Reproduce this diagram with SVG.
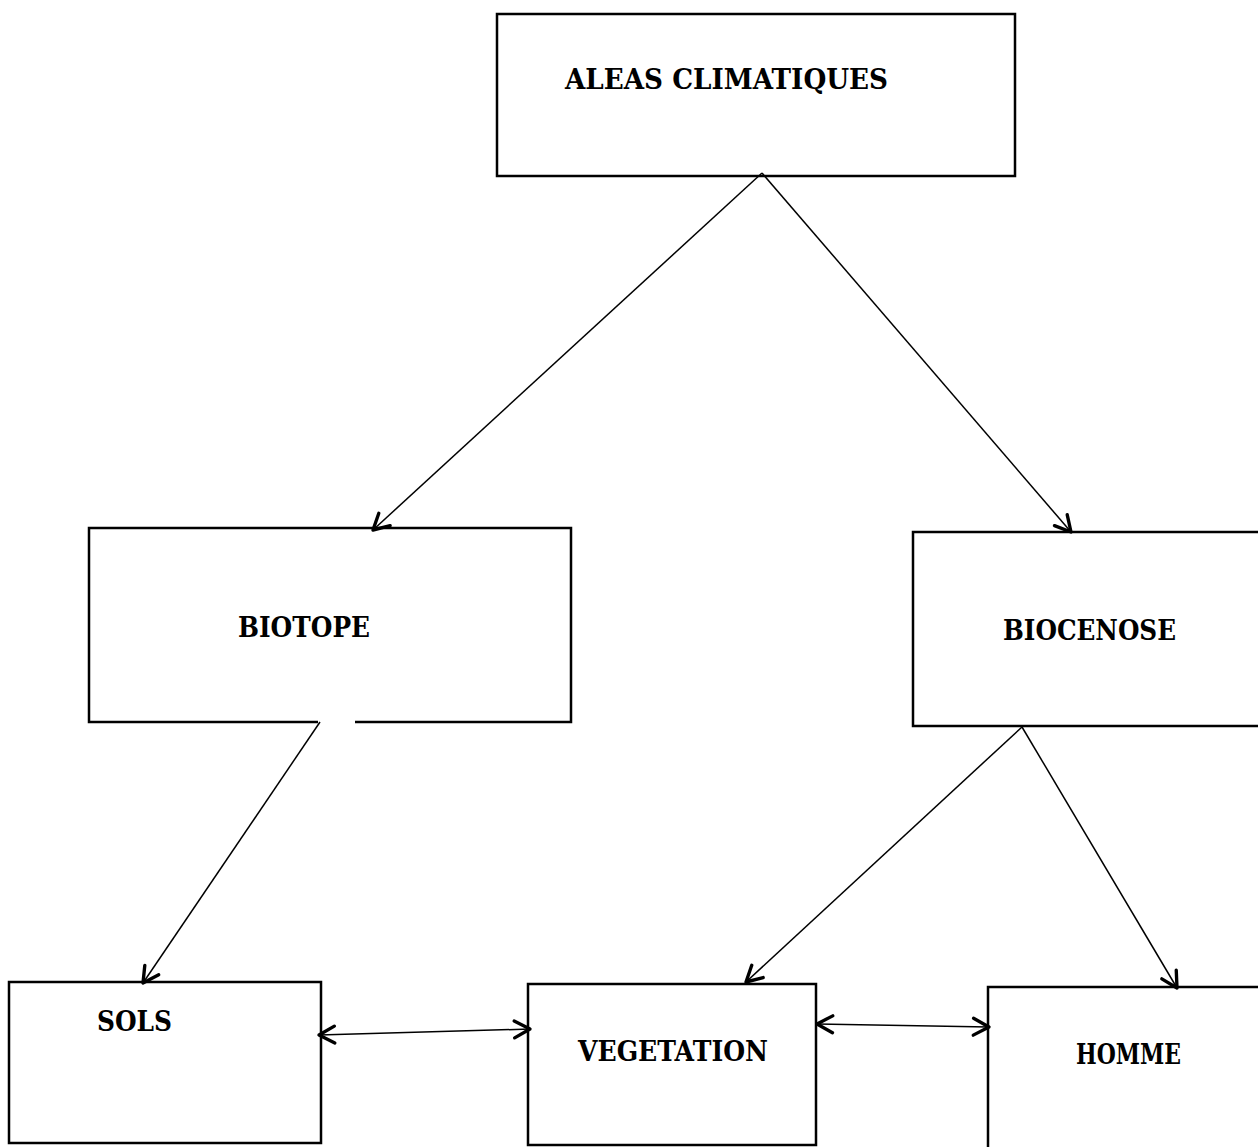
<svg xmlns="http://www.w3.org/2000/svg" width="1258" height="1147" viewBox="0 0 1258 1147">
  <style>
    .box { fill: none; stroke: #000; stroke-width: 2.5; }
    .lbl { font-family: "DejaVu Serif", "Liberation Serif", serif; font-weight: bold; font-size: 27px; fill: #000; }
    .link { fill: none; stroke: #000; stroke-width: 1.5; }
  </style>
  <defs>
    <marker id="head" markerUnits="userSpaceOnUse" markerWidth="24" markerHeight="24" viewBox="-16 -10 20 20" refX="0" refY="0" orient="auto-start-reverse">
      <path d="M -13 -7 L 0 0 L -13 7" fill="none" stroke="#000" stroke-width="2.8" stroke-linecap="round" stroke-linejoin="round"/>
    </marker>
  </defs>
  <rect width="1258" height="1147" fill="#fff"/>

  <g id="node-aleas">
    <rect class="box" x="497" y="14" width="518" height="162"/>
    <text class="lbl" x="565" y="89" textLength="323" lengthAdjust="spacingAndGlyphs">ALEAS CLIMATIQUES</text>
  </g>

  <g id="node-biotope">
    <path class="box" d="M 318 722 L 89 722 L 89 528 L 571 528 L 571 722 L 355 722"/>
    <text class="lbl" x="238" y="637" textLength="132" lengthAdjust="spacingAndGlyphs">BIOTOPE</text>
  </g>

  <g id="node-biocenose">
    <path class="box" d="M 1258 532 L 913 532 L 913 726 L 1258 726"/>
    <text class="lbl" x="1003" y="640" textLength="173" lengthAdjust="spacingAndGlyphs">BIOCENOSE</text>
  </g>

  <g id="node-sols">
    <rect class="box" x="9" y="982" width="312" height="161"/>
    <text class="lbl" x="97" y="1031" textLength="75" lengthAdjust="spacingAndGlyphs">SOLS</text>
  </g>

  <g id="node-vegetation">
    <rect class="box" x="528" y="984" width="288" height="161"/>
    <text class="lbl" x="578" y="1061" textLength="190" lengthAdjust="spacingAndGlyphs">VEGETATION</text>
  </g>

  <g id="node-homme">
    <path class="box" d="M 988 1147 L 988 987 L 1258 987"/>
    <text class="lbl" x="1076" y="1064" textLength="105" lengthAdjust="spacingAndGlyphs">HOMME</text>
  </g>

  <g id="connectors">
    <line class="link" x1="762" y1="173" x2="373" y2="530" marker-end="url(#head)"/>
    <line class="link" x1="762" y1="173" x2="1071" y2="532" marker-end="url(#head)"/>
    <line class="link" x1="320" y1="722" x2="143" y2="983" marker-end="url(#head)"/>
    <line class="link" x1="1022" y1="727" x2="746" y2="982" marker-end="url(#head)"/>
    <line class="link" x1="1022" y1="727" x2="1177" y2="988" stroke-width="2.2" marker-end="url(#head)"/>
    <line class="link" x1="319" y1="1035" x2="530" y2="1029" stroke-width="2" marker-start="url(#head)" marker-end="url(#head)"/>
    <line class="link" x1="817" y1="1024" x2="989" y2="1027" stroke-width="2" marker-start="url(#head)" marker-end="url(#head)"/>
  </g>
</svg>
